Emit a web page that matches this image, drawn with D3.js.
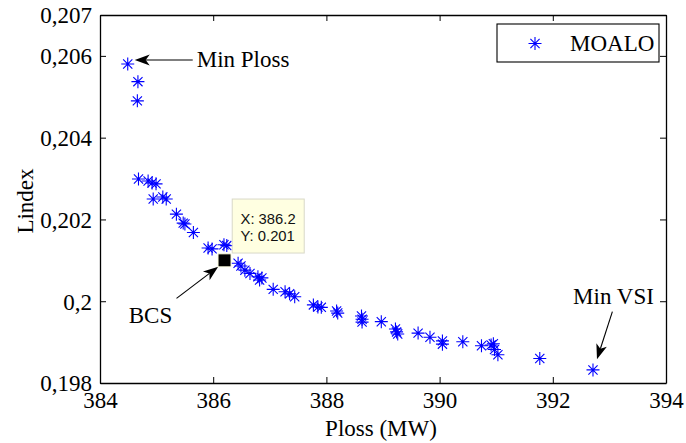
<!DOCTYPE html>
<html><head><meta charset="utf-8">
<script src="https://cdn.jsdelivr.net/npm/d3@7"></script>
<style>body{margin:0;background:#fff}svg{display:block}</style>
</head><body><svg id="c" width="686" height="443"></svg>
<script>
const ploss = [384.49,384.67,384.66,384.68,384.85,384.92,384.99,384.94,385.11,385.17,385.35,385.47,385.50,385.65,385.91,385.98,386.19,386.24,386.44,386.49,386.56,386.65,386.79,386.82,386.86,387.06,387.27,387.35,387.44,387.77,387.85,387.91,388.18,388.20,388.62,388.63,388.63,388.97,389.22,389.24,389.26,389.62,389.83,390.05,390.05,390.41,390.74,390.91,390.95,390.97,391.03,391.77,392.71];
const lindex = [0.20580,0.20537,0.20490,0.20299,0.20294,0.20289,0.20287,0.20250,0.20255,0.20250,0.20213,0.20191,0.20189,0.20168,0.20130,0.20128,0.20138,0.20136,0.20093,0.20086,0.20076,0.20068,0.20060,0.20052,0.20057,0.20029,0.20023,0.20018,0.20011,0.19991,0.19986,0.19985,0.19976,0.19971,0.19964,0.19956,0.19949,0.19950,0.19932,0.19925,0.19920,0.19922,0.19912,0.19903,0.19895,0.19901,0.19891,0.19893,0.19896,0.19882,0.19869,0.19860,0.19832];
const xTicks = [384,386,388,390,392,394];
const xTickLabels = ["384","386","388","390","392","394"];
const yTicks = [0.198,0.2,0.202,0.204,0.206,0.207];
const yTickLabels = ["0,198","0,2","0,202","0,204","0,206","0,207"];
const seriesName = "MOALO";
const bcsX = 386.2, bcsY = 0.201;
const tipLines = ["X: 386.2","Y: 0.201"];

const serif = "'Liberation Serif','Times New Roman',serif";
const fs = 23;
const svg = d3.select("#c");
const L=100,R=666,T=15,B=383;
const x = d3.scaleLinear().domain([384,394]).range([L,R]);
const y = d3.scaleLinear().domain([0.198,0.207]).range([B,T]);

// axes
const gB = svg.append("g").attr("transform",`translate(0,${B})`)
  .call(d3.axisBottom(x).tickValues(xTicks).tickFormat((d,i)=>xTickLabels[i]).tickSize(-6).tickSizeOuter(0));
gB.selectAll("text").attr("y",25).attr("dy",0);
const gT = svg.append("g").attr("transform",`translate(0,${T})`)
  .call(d3.axisTop(x).tickValues(xTicks).tickFormat("").tickSize(-6).tickSizeOuter(0));
const gL = svg.append("g").attr("transform",`translate(${L},0)`)
  .call(d3.axisLeft(y).tickValues(yTicks).tickFormat((d,i)=>yTickLabels[i]).tickSize(-6).tickSizeOuter(0));
gL.selectAll("text").attr("x",-8).attr("dy","0.34em");
const gR = svg.append("g").attr("transform",`translate(${R},0)`)
  .call(d3.axisRight(y).tickValues(yTicks).tickFormat("").tickSize(-6).tickSizeOuter(0));
[gB,gT,gL,gR].forEach(g=>{
  g.selectAll("path.domain").attr("stroke","#000").attr("stroke-width",1.3);
  g.selectAll("line").attr("stroke","#000").attr("stroke-width",1);
  g.selectAll("text").attr("font-family",serif).attr("font-size",fs).attr("fill","#000");
});

// axis labels
svg.append("text").attr("x",(L+R)/2-2).attr("y",436).attr("text-anchor","middle")
  .attr("font-family",serif).attr("font-size",fs).text("Ploss (MW)");
svg.append("text").attr("transform","translate(33,201) rotate(-90)").attr("text-anchor","middle")
  .attr("font-family",serif).attr("font-size",fs).text("Lindex");

// asterisk markers
const ast = "M-6.5,0H6.5M0,-6.5V6.5M-4.6,-4.6L4.6,4.6M-4.6,4.6L4.6,-4.6";
const data = ploss.map((p,i)=>({p, l:lindex[i]}));
svg.append("g").selectAll("path").data(data).join("path")
  .attr("d",ast).attr("transform",d=>`translate(${x(d.p)},${y(d.l)})`)
  .attr("fill","none").attr("stroke","#0000ff").attr("stroke-width",1.1);

// arrow helper
function arrow(x1,y1,x2,y2){
  const a=Math.atan2(y2-y1,x2-x1), Lh=15, W=5.5, N=4;
  svg.append("line").attr("x1",x1).attr("y1",y1)
    .attr("x2",x2-Math.cos(a)*(Lh-N)).attr("y2",y2-Math.sin(a)*(Lh-N))
    .attr("stroke","#000").attr("stroke-width",1.1);
  const c=Math.cos(a), s=Math.sin(a);
  const bx=x2-c*Lh, by=y2-s*Lh, nx=x2-c*(Lh-N), ny=y2-s*(Lh-N);
  svg.append("path").attr("d",`M${x2},${y2}L${bx-s*W},${by+c*W}L${nx},${ny}L${bx+s*W},${by-c*W}Z`).attr("fill","#000");
}

// Min Ploss annotation
const p0x = x(ploss[0]), p0y = y(lindex[0]);
arrow(p0x+65, p0y-4, p0x+7, p0y-4);
svg.append("text").attr("x",p0x+69).attr("y",p0y+3).attr("font-family",serif).attr("font-size",fs).text("Min Ploss");

// Min VSI annotation
const n = ploss.length-1;
const pnx = x(ploss[n]), pny = y(lindex[n]);
arrow(pnx+19.4, pny-58.3, pnx+4, pny-10.7);
svg.append("text").attr("x",pnx+20.5).attr("y",pny-65.5).attr("text-anchor","middle")
  .attr("font-family",serif).attr("font-size",fs).text("Min VSI");

// BCS data tip
const bx = x(bcsX), by = y(bcsY);
arrow(bx-48, by+38, bx-6.3, by+6.4);
svg.append("text").attr("x",bx-74).attr("y",by+63).attr("text-anchor","middle")
  .attr("font-family",serif).attr("font-size",fs).text("BCS");
svg.append("rect").attr("x",bx+7.7).attr("y",by-61.3).attr("width",72).attr("height",54)
  .attr("fill","#ffffe1").attr("stroke","#d8d8c8").attr("stroke-width",1);
tipLines.forEach((t,i)=>svg.append("text").attr("x",bx+16).attr("y",by-36.5+i*17)
  .attr("font-family","'Liberation Sans',Arial,sans-serif").attr("font-size",14.8).attr("fill","#111").text(t));
svg.append("rect").attr("x",bx-6.5).attr("y",by-6.5).attr("width",13).attr("height",13)
  .attr("fill","#000").attr("stroke","#ffffe1").attr("stroke-width",1);

// legend
svg.append("rect").attr("x",497).attr("y",24).attr("width",162).attr("height",38)
  .attr("fill","#fff").attr("stroke","#000").attr("stroke-width",1.1);
svg.append("path").attr("d",ast).attr("transform","translate(535,43.5)")
  .attr("fill","none").attr("stroke","#0000ff").attr("stroke-width",1.1);
svg.append("text").attr("x",570).attr("y",51).attr("font-family",serif).attr("font-size",fs).text(seriesName);
</script></body></html>
